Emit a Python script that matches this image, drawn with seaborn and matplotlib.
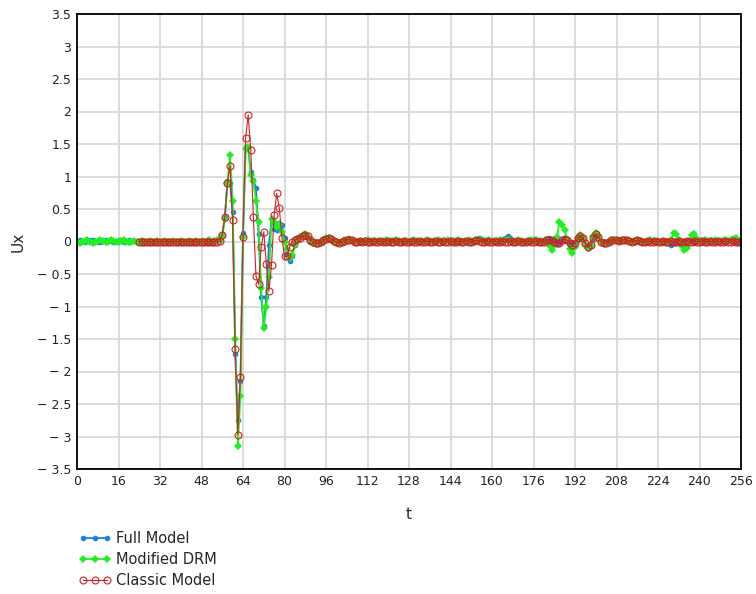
import numpy as np
import pandas as pd
import matplotlib
matplotlib.use("Agg")
import matplotlib.pyplot as plt
from matplotlib.ticker import FuncFormatter, MultipleLocator
import seaborn as sns

# time samples (dt = 1)
t = np.arange(0, 257)

# Full Model, t = 0 .. 256, 16 values per row
full_model = [
    0.01, 0.02, 0.01, 0.00, 0.01, 0.02, 0.02, 0.01, 0.00, 0.00, 0.01, 0.02, 0.01, 0.01, 0.00, 0.01,
    0.02, 0.01, 0.00, 0.01, 0.02, 0.01, 0.01, 0.00, 0.01, 0.02, 0.01, 0.00, 0.00, 0.01, 0.01, 0.00,
    0.00, 0.01, 0.01, 0.00, 0.00, 0.01, 0.00, 0.00, 0.01, 0.01, 0.00, 0.00, 0.01, 0.00, 0.00, 0.01,
    0.01, 0.00, 0.00, 0.01, 0.00, 0.01, 0.02, 0.03, 0.10, 0.38, 0.93, 0.90, 0.45, -1.73, -2.75, -2.15,
    0.13, 1.45, 1.45, 1.07, 0.95, 0.82, 0.12, -0.85, -1.30, -0.85, -0.05, 0.35, 0.20, 0.18, 0.28, 0.25,
    0.05, -0.20, -0.30, -0.22, -0.05, 0.05, 0.08, 0.10, 0.10, 0.06, 0.00, -0.03, -0.04, -0.03, 0.00, 0.03,
    0.05, 0.05, 0.03, 0.00, -0.02, -0.02, -0.01, 0.02, 0.04, 0.04, 0.02, 0.00, -0.01, 0.00, 0.01, 0.02,
    0.01, 0.00, 0.00, 0.01, 0.02, 0.01, 0.00, 0.00, 0.01, 0.02, 0.02, 0.01, 0.00, 0.00, 0.01, 0.01,
    0.00, 0.01, 0.02, 0.01, 0.00, 0.00, 0.01, 0.02, 0.01, 0.00, 0.00, 0.01, 0.01, 0.00, 0.01, 0.02,
    0.03, 0.02, 0.00, -0.01, 0.00, 0.01, 0.02, 0.01, 0.00, 0.01, 0.03, 0.05, 0.04, 0.01, 0.00, 0.01,
    0.02, 0.01, 0.00, 0.01, 0.03, 0.06, 0.08, 0.05, 0.02, 0.00, 0.01, 0.02, 0.01, 0.00, 0.00, 0.01,
    0.02, 0.03, 0.02, 0.00, 0.02, 0.04, 0.05, 0.02, -0.02, -0.04, -0.02, 0.03, 0.05, 0.02, -0.03, -0.06,
    -0.03, 0.04, 0.10, 0.06, -0.04, -0.10, -0.06, 0.06, 0.13, 0.08, 0.00, -0.04, -0.02, 0.00, 0.02, 0.03,
    0.02, 0.01, 0.02, 0.03, 0.02, 0.01, 0.00, 0.01, 0.02, 0.01, 0.00, -0.01, 0.00, 0.01, 0.02, 0.01,
    0.00, 0.00, 0.01, 0.00, -0.03, -0.05, -0.02, 0.01, 0.02, 0.01, 0.00, 0.01, 0.02, 0.01, 0.00, 0.01,
    0.02, 0.01, 0.00, 0.01, 0.02, 0.01, 0.00, 0.01, 0.02, 0.01, 0.00, 0.01, 0.02, 0.01, 0.00, 0.01,
    0.01,
]

# Modified DRM, t = 0 .. 256
modified_drm = [
    0.00, -0.02, -0.01, 0.01, 0.02, 0.00, -0.02, -0.01, 0.01, 0.02, 0.01, -0.01, 0.00, 0.02, 0.01, 0.00,
    -0.01, 0.01, 0.02, 0.00, -0.01, 0.00, 0.01, 0.00, 0.00, 0.01, 0.00, 0.00, 0.01, 0.00, 0.00, 0.01,
    0.00, 0.00, 0.01, 0.00, 0.00, 0.01, 0.00, 0.00, 0.01, 0.00, 0.00, 0.01, 0.00, 0.00, 0.01, 0.00,
    0.01, 0.00, 0.01, 0.02, 0.00, 0.01, 0.02, 0.03, 0.08, 0.35, 0.90, 1.33, 0.62, -1.50, -3.15, -2.37,
    0.07, 1.42, 1.45, 1.02, 0.93, 0.62, 0.30, -0.72, -1.33, -1.00, -0.55, 0.35, 0.30, 0.22, 0.25, 0.15,
    0.00, -0.12, -0.25, -0.20, -0.05, 0.03, 0.07, 0.10, 0.11, 0.07, 0.02, -0.02, -0.03, -0.03, 0.00, 0.03,
    0.05, 0.05, 0.04, 0.01, -0.01, -0.02, -0.01, 0.02, 0.03, 0.04, 0.02, 0.00, 0.00, 0.01, 0.00, 0.01,
    0.02, 0.01, 0.00, 0.01, 0.01, 0.00, 0.01, 0.02, 0.01, 0.00, 0.01, 0.02, 0.01, 0.00, 0.01, 0.01,
    0.00, 0.01, 0.02, 0.01, 0.00, 0.01, 0.01, 0.02, 0.01, 0.00, 0.01, 0.02, 0.01, 0.00, 0.01, 0.02,
    0.01, 0.00, 0.01, 0.02, 0.01, 0.00, 0.01, 0.02, 0.01, 0.00, 0.02, 0.03, 0.02, 0.00, 0.01, 0.02,
    0.01, 0.00, 0.01, 0.02, 0.01, 0.02, 0.03, 0.02, 0.00, 0.01, 0.02, 0.01, 0.00, 0.00, 0.01, 0.02,
    0.03, 0.02, 0.00, 0.01, 0.00, 0.02, -0.05, -0.13, -0.05, 0.07, 0.30, 0.25, 0.18, 0.02, -0.12, -0.18,
    -0.08, 0.05, 0.10, 0.05, -0.05, -0.10, -0.05, 0.08, 0.13, 0.08, 0.00, -0.03, -0.02, 0.00, 0.02, 0.03,
    0.02, 0.01, 0.02, 0.03, 0.02, 0.01, 0.00, 0.01, 0.02, 0.01, 0.00, 0.00, 0.01, 0.02, 0.01, 0.00,
    0.01, 0.00, 0.01, 0.00, 0.00, 0.03, 0.13, 0.12, 0.02, -0.06, -0.13, -0.10, 0.00, 0.10, 0.12, 0.04,
    0.00, 0.01, 0.02, 0.01, 0.00, 0.01, 0.02, 0.01, 0.00, 0.01, 0.02, 0.01, 0.02, 0.04, 0.06, 0.02,
    0.01,
]

# Classic Model, t = 24 .. 256 (no samples before t = 24)
classic_start = 24
classic_model = [
    0.00, 0.00, 0.00, 0.00, 0.00, 0.00, 0.00, 0.00,
    0.00, 0.00, 0.00, 0.00, 0.00, 0.00, 0.00, 0.00, 0.00, 0.00, 0.00, 0.00, 0.00, 0.00, 0.00, 0.00,
    0.00, 0.00, 0.00, 0.00, 0.00, 0.00, 0.00, 0.01, 0.10, 0.38, 0.90, 1.16, 0.33, -1.66, -2.97, -2.08,
    0.07, 1.59, 1.95, 1.41, 0.37, -0.53, -0.66, -0.09, 0.15, -0.35, -0.76, -0.36, 0.41, 0.74, 0.51, 0.06,
    -0.23, -0.23, -0.08, 0.00, 0.02, 0.04, 0.06, 0.08, 0.10, 0.08, 0.03, -0.01, -0.03, -0.03, -0.01, 0.02,
    0.04, 0.05, 0.04, 0.01, -0.01, -0.02, -0.01, 0.01, 0.03, 0.03, 0.02, 0.00, 0.00, 0.01, 0.00, 0.01,
    0.00, 0.00, 0.01, 0.00, 0.00, 0.01, 0.00, 0.00, 0.01, 0.00, 0.00, 0.01, 0.00, 0.00, 0.01, 0.00,
    0.00, 0.01, 0.00, 0.00, 0.01, 0.00, 0.00, 0.01, 0.00, 0.00, 0.01, 0.00, 0.00, 0.01, 0.00, 0.00,
    0.01, 0.00, 0.00, 0.01, 0.00, 0.00, 0.01, 0.00, 0.00, 0.01, 0.02, 0.01, 0.00, 0.00, 0.01, 0.00,
    0.00, 0.01, 0.00, 0.00, 0.01, 0.00, 0.00, 0.01, 0.00, 0.00, 0.01, 0.00, 0.00, 0.00, 0.01, 0.00,
    0.00, 0.01, 0.00, 0.00, 0.00, 0.02, 0.03, 0.02, -0.01, -0.03, -0.02, 0.02, 0.04, 0.02, -0.02, -0.05,
    -0.02, 0.05, 0.09, 0.05, -0.03, -0.09, -0.05, 0.06, 0.12, 0.07, 0.00, -0.03, -0.02, 0.00, 0.02, 0.03,
    0.02, 0.01, 0.02, 0.03, 0.02, 0.01, 0.00, 0.01, 0.02, 0.01, 0.00, 0.00, 0.01, 0.00, 0.00, 0.01,
    0.00, 0.00, 0.01, 0.00, 0.00, 0.01, 0.00, 0.00, 0.01, 0.00, 0.00, 0.01, 0.00, 0.00, 0.01, 0.00,
    0.00, 0.01, 0.00, 0.00, 0.01, 0.00, 0.00, 0.01, 0.00, 0.00, 0.01, 0.00, 0.00, 0.01, 0.00, 0.00,
    0.00,
]

labels = ["Full Model", "Modified DRM", "Classic Model"]
colors = ["#1A7FE6", "#22EE22", "#D02020"]

df_full = pd.DataFrame({"t": t, "Ux": full_model})
df_drm = pd.DataFrame({"t": t, "Ux": modified_drm})
df_classic = pd.DataFrame({"t": t[classic_start:], "Ux": classic_model})

sns.set_style("white")
plt.rcParams["font.family"] = ["DejaVu Sans"]

fig = plt.figure(figsize=(7.56, 5.94), dpi=100)
ax = fig.add_axes([77 / 756, 1 - 469 / 594, 664 / 756, 455 / 594])

sns.lineplot(data=df_full, x="t", y="Ux", ax=ax, color=colors[0], marker="o",
             markersize=4, markeredgewidth=0, lw=1.3, estimator=None, errorbar=None,
             label=labels[0])
sns.lineplot(data=df_drm, x="t", y="Ux", ax=ax, color=colors[1], marker="D",
             markersize=4, markeredgewidth=0, lw=1.3, estimator=None, errorbar=None,
             label=labels[1])
sns.lineplot(data=df_classic, x="t", y="Ux", ax=ax, color=colors[2], marker="o",
             markersize=5, markerfacecolor="none", markeredgecolor=colors[2],
             markeredgewidth=0.8, lw=0.8, estimator=None, errorbar=None,
             label=labels[2])

ax.set_xlim(0, 256)
ax.set_ylim(-3.5, 3.5)
ax.xaxis.set_major_locator(MultipleLocator(16))
ax.yaxis.set_major_locator(MultipleLocator(0.5))


def fmt(v, pos):
    s = f"{abs(v):g}"
    return ("\u2212 " + s) if v < -1e-9 else s


ax.yaxis.set_major_formatter(FuncFormatter(fmt))
ax.grid(True, color="#D6D6D6", lw=1.2)
ax.set_axisbelow(True)
for sp in ax.spines.values():
    sp.set_color("black")
    sp.set_linewidth(1.3)
ax.tick_params(axis="both", length=0, labelsize=9, pad=4, colors="#222222")
ax.set_xlabel("t", fontsize=11, labelpad=14)
ax.set_ylabel("Ux", fontsize=11, labelpad=8)

handles, lbls = ax.get_legend_handles_labels()
ax.legend(handles, lbls, loc="upper left", bbox_to_anchor=(79 / 756, 1 - 531 / 594),
          bbox_transform=fig.transFigure, frameon=False, numpoints=3,
          fontsize=10.5, handlelength=2.2, handletextpad=0.35, labelspacing=0.4,
          borderaxespad=0, borderpad=0)

fig.savefig("out.png", dpi=100)
